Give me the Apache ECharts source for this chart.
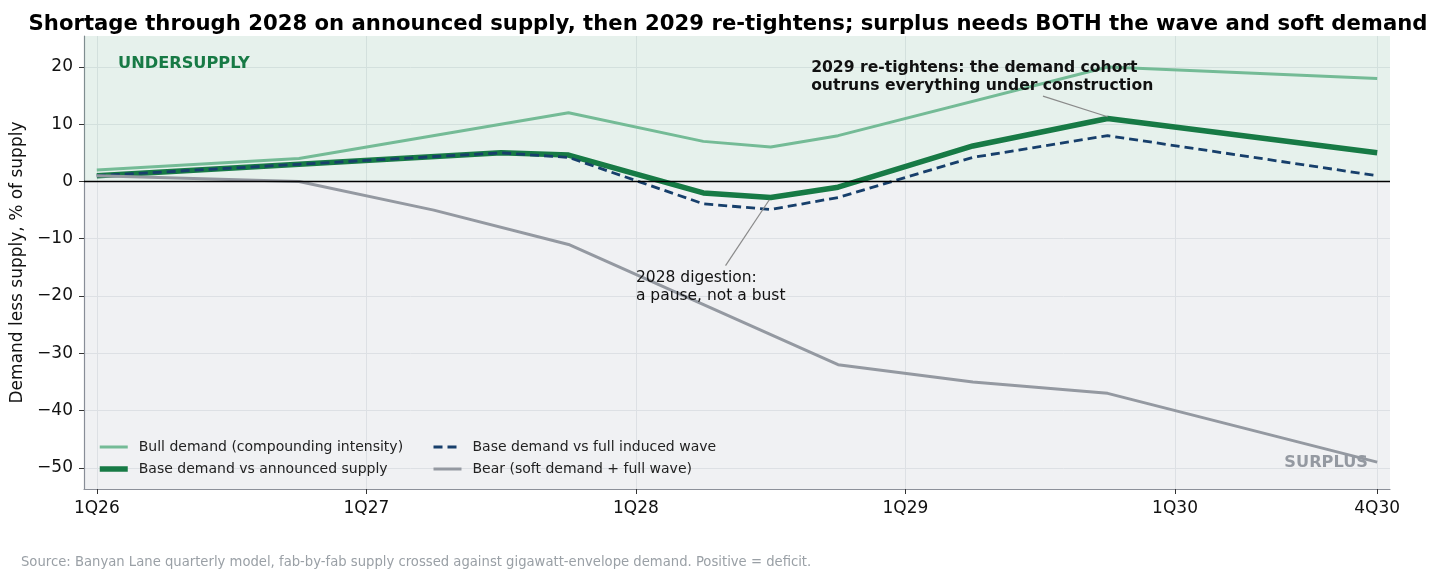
<!DOCTYPE html>
<html lang="en">
<head>
<meta charset="UTF-8">
<title>Demand less supply scenarios</title>
<script src="https://cdn.jsdelivr.net/npm/echarts@6/dist/echarts.min.js"></script>
<style>
  html, body { margin: 0; padding: 0; background: #fff; }
  #main { width: 1456px; height: 582px; }
</style>
</head>
<body>
<div id="main"></div>
<script>
// quarter labels, index 0 = 1Q26
const quarters = ['1Q26','2Q26','3Q26','4Q26','1Q27','2Q27','3Q27','4Q27',
                  '1Q28','2Q28','3Q28','4Q28','1Q29','2Q29','3Q29','4Q29',
                  '1Q30','2Q30','3Q30','4Q30'];
const tickQuarters = [0, 4, 8, 12, 16, 19];
const yTicks = [-50, -40, -30, -20, -10, 0, 10, 20];

// demand less supply, % of supply (null = no point in the model output)
const bull = [2, null, null, 4, null, null, null, 12, null, 7, 6, 8, null, null, null, 20, null, null, null, 18];
const base = [1, null, null, 3, null, null, 5, 4.6, null, -2, -2.8, -1, null, 6.2, null, 11, null, null, null, 5];
const wave = [1, null, null, 3, null, null, 5, 4.2, null, -3.9, -4.9, -2.8, null, 4.2, null, 8, null, null, null, 1];
const bear = [1, null, null, 0, null, -5, null, -11, null, null, null, -32, null, -35, null, -37, null, null, null, -49];

const FONT = 'DejaVu Sans';

function pts(arr) {
  return arr.map((v, i) => [i, v]).filter(p => p[1] !== null);
}

var chart = echarts.init(document.getElementById('main'));

var legendCommon = {
  orient: 'vertical', top: 440, padding: 0, itemGap: 8,
  itemWidth: 28, itemHeight: 14,
  itemStyle: { opacity: 0 },
  textStyle: { fontFamily: FONT, fontSize: 14, color: '#222', padding: [0, 0, 0, 6] }
};

var option = {
  backgroundColor: '#fff',
  animation: false,
  textStyle: { fontFamily: FONT },
  title: {
    text: 'Shortage through 2028 on announced supply, then 2029 re-tightens; surplus needs BOTH the wave and soft demand',
    left: 'center',
    top: 9,
    textStyle: { fontFamily: FONT, fontSize: 21.2, fontWeight: 'bold', color: '#000' }
  },
  grid: { left: 84, right: 66, top: 36, bottom: 93 },
  legend: [
    Object.assign({}, legendCommon, {
      left: 97,
      data: [
        { name: 'Bull demand (compounding intensity)', lineStyle: { width: 3 } },
        { name: 'Base demand vs announced supply', lineStyle: { width: 5.5 } }
      ]
    }),
    Object.assign({}, legendCommon, {
      left: 432,
      data: [
        { name: 'Base demand vs full induced wave', lineStyle: { width: 2.8 } },
        { name: 'Bear (soft demand + full wave)', lineStyle: { width: 3 } }
      ]
    })
  ],
  xAxis: {
    type: 'value',
    min: -0.19, max: 19.19,
    axisLine: { show: true, onZero: false, lineStyle: { color: '#8c9099', width: 1.2 } },
    axisTick: { show: true, length: 5, customValues: tickQuarters, lineStyle: { color: '#333' } },
    axisLabel: {
      customValues: tickQuarters, margin: 11,
      fontFamily: FONT, fontSize: 17, color: '#111',
      formatter: v => quarters[Math.round(v)]
    },
    splitLine: { show: true, lineStyle: { color: '#eaecef', width: 1 } }
  },
  yAxis: {
    type: 'value',
    min: -53.7, max: 25.4,
    name: 'Demand less supply, % of supply',
    nameLocation: 'middle', nameGap: 56,
    nameTextStyle: { fontFamily: FONT, fontSize: 17, color: '#111' },
    axisLine: { show: true, onZero: false, lineStyle: { color: '#8c9099', width: 1.2 } },
    axisTick: { show: true, length: 5, customValues: yTicks, lineStyle: { color: '#333' } },
    axisLabel: {
      customValues: yTicks, margin: 11,
      fontFamily: FONT, fontSize: 17, color: '#111',
      formatter: v => (v < 0 ? '\u2212' + Math.abs(v) : String(v))
    },
    splitLine: { show: true, lineStyle: { color: '#eaecef', width: 1 } }
  },
  series: [
    {
      name: 'Bull demand (compounding intensity)',
      type: 'line', data: pts(bull), connectNulls: true,
      symbol: 'none', color: '#74bb96',
      lineStyle: { width: 3, color: '#74bb96' },
      markArea: {
        silent: true,
        data: [
          [{ yAxis: 0, itemStyle: { color: 'rgba(16,122,71,0.105)' } }, { yAxis: 25.4 }],
          [{ yAxis: -53.7, itemStyle: { color: 'rgba(110,120,140,0.1)' } }, { yAxis: 0 }]
        ]
      },
      markLine: {
        silent: true, symbol: 'none', label: { show: false },
        lineStyle: { color: '#000', width: 1.4, type: 'solid' },
        data: [{ yAxis: 0 }]
      }
    },
    {
      name: 'Base demand vs announced supply',
      type: 'line', data: pts(base), connectNulls: true,
      symbol: 'none', color: '#177a45',
      lineStyle: { width: 5.5, color: '#177a45' }
    },
    {
      name: 'Base demand vs full induced wave',
      type: 'line', data: pts(wave), connectNulls: true,
      symbol: 'none', color: '#173f6b',
      lineStyle: { width: 2.8, color: '#173f6b', type: [9, 5] }
    },
    {
      name: 'Bear (soft demand + full wave)',
      type: 'line', data: pts(bear), connectNulls: true,
      symbol: 'none', color: '#9499a1',
      lineStyle: { width: 3, color: '#9499a1' },
      markLine: {
        silent: true, symbol: 'none', label: { show: false },
        lineStyle: { color: '#8a8a8a', width: 1.2, type: 'solid' },
        data: [
          [{ coord: [14.04, 14.9] }, { coord: [15, 11.3] }],
          [{ coord: [9.33, -14.7] }, { coord: [9.98, -3.2] }]
        ]
      }
    }
  ]
};

chart.setOption(option);

// annotation text anchored in data coordinates
const p1 = chart.convertToPixel({ gridIndex: 0 }, [10.6, 21.4]);
const p2 = chart.convertToPixel({ gridIndex: 0 }, [8.0, -15.2]);

chart.setOption({
  graphic: [
    {
      type: 'text', left: p1[0], top: p1[1], z: 20,
      style: {
        text: '2029 re-tightens: the demand cohort\noutruns everything under construction',
        font: 'bold 15.6px "DejaVu Sans"', fill: '#111', lineHeight: 18
      }
    },
    {
      type: 'text', left: p2[0], top: p2[1], z: 20,
      style: {
        text: '2028 digestion:\na pause, not a bust',
        font: '15.5px "DejaVu Sans"', fill: '#111', lineHeight: 18
      }
    },
    {
      type: 'text', left: 118, top: 56, z: 20,
      style: { text: 'UNDERSUPPLY', font: 'bold 16.2px "DejaVu Sans"', fill: '#177a45' }
    },
    {
      type: 'text', right: 88, top: 455, z: 20,
      style: { text: 'SURPLUS', font: 'bold 16.2px "DejaVu Sans"', fill: '#9499a1' }
    },
    {
      type: 'text', left: 21, top: 556, z: 20,
      style: {
        text: 'Source: Banyan Lane quarterly model, fab-by-fab supply crossed against gigawatt-envelope demand. Positive = deficit.',
        font: '13.2px "DejaVu Sans"', fill: '#9aa0a6'
      }
    }
  ]
});
</script>
</body>
</html>
